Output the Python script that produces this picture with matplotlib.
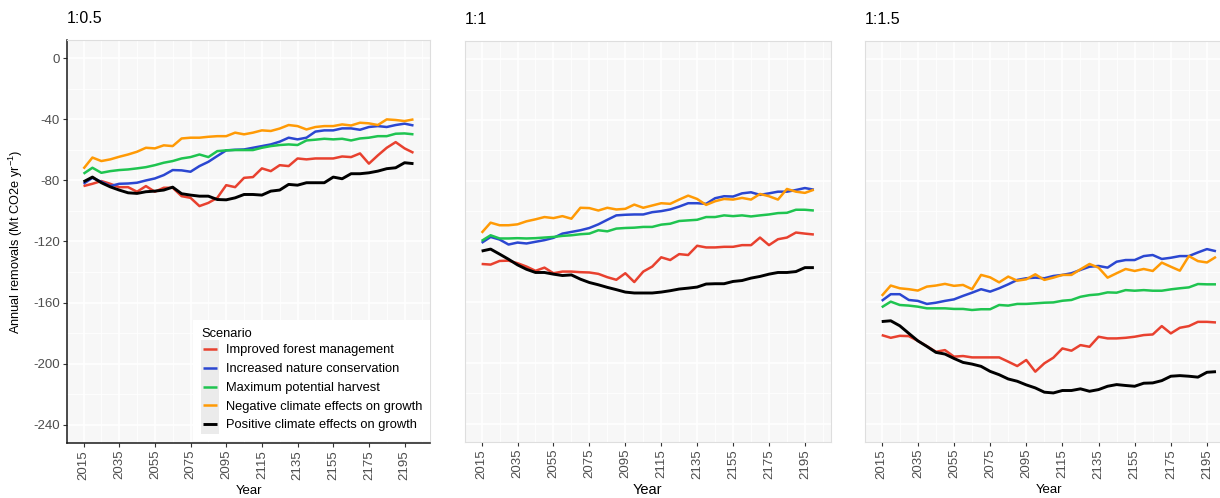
import matplotlib
matplotlib.use("Agg")
import matplotlib.pyplot as plt
from matplotlib.legend_handler import HandlerLine2D
from matplotlib.patches import Rectangle
from matplotlib.lines import Line2D

plt.rcParams["font.family"] = ["Liberation Sans", "DejaVu Sans"]
plt.rcParams["mathtext.default"] = "regular"
plt.rcParams["axes.unicode_minus"] = False

# ---------------------------------------------------------------- data
years = list(range(2015, 2205, 5))

scenarios = [
    "Improved forest management",
    "Increased nature conservation",
    "Maximum potential harvest",
    "Negative climate effects on growth",
    "Positive climate effects on growth",
]
colors = ["#E8412F", "#2B47D1", "#1FC450", "#FF9A05", "#000000"]

ratios = ["1:0.5", "1:1", "1:1.5"]

# ratio 1:0.5
ifm_half = [-83.7, -82.2, -80.4, -82.2, -84.4, -84.4, -87.4, -83.7, -87.4, -84.8,
            -84.8, -90.3, -91.4, -96.8, -94.7, -91.4, -83.1, -84.4, -78.3, -77.8,
            -72.1, -73.9, -70.0, -70.6, -65.6, -66.2, -65.6, -65.6, -65.6, -64.3,
            -64.7, -62.3, -69.0, -63.6, -58.6, -54.9, -59.0, -61.9]
inc_half = [-82.2, -78.3, -80.9, -83.7, -82.2, -82.0, -81.5, -80.0, -78.7, -76.5,
            -73.2, -73.4, -74.3, -70.6, -67.8, -64.0, -60.3, -59.9, -59.7, -58.6,
            -57.5, -56.4, -54.6, -52.0, -53.1, -52.0, -48.0, -47.2, -47.2, -45.9,
            -45.9, -46.8, -45.0, -44.4, -45.0, -43.7, -42.8, -44.0]
mph_half = [-75.6, -71.7, -75.0, -73.9, -73.2, -72.8, -72.1, -71.3, -70.0, -68.4,
            -67.3, -65.6, -64.7, -63.0, -64.7, -60.8, -60.3, -60.1, -60.1, -60.1,
            -58.6, -57.5, -56.8, -56.4, -56.8, -53.8, -53.3, -52.7, -53.1, -52.7,
            -53.8, -52.5, -52.0, -51.0, -51.0, -49.4, -49.2, -49.8]
neg_half = [-72.3, -65.0, -67.3, -66.2, -64.5, -63.0, -61.2, -58.6, -59.0, -57.0,
            -57.5, -52.5, -52.0, -52.0, -51.4, -51.0, -51.0, -48.7, -49.8, -48.7,
            -47.2, -47.6, -46.0, -43.7, -44.4, -46.6, -45.0, -44.4, -44.4, -43.3,
            -44.0, -42.2, -42.6, -43.7, -40.0, -40.4, -41.1, -40.0]
pos_half = [-80.9, -77.8, -81.5, -84.2, -86.3, -88.1, -88.5, -87.4, -87.0, -86.3,
            -84.4, -88.7, -89.6, -90.3, -90.3, -92.5, -92.7, -91.4, -89.2, -89.2,
            -89.6, -87.0, -86.3, -82.6, -83.1, -81.5, -81.5, -81.5, -77.8, -78.9,
            -75.6, -75.6, -75.0, -73.9, -72.3, -71.7, -68.4, -69.0]

# ratio 1:1
ifm_one = [-134.8, -135.2, -132.8, -132.6, -134.3, -136.5, -139.3, -137.2, -140.9, -139.8,
           -139.8, -140.2, -140.4, -141.3, -143.5, -145.2, -140.9, -146.7, -139.8, -136.5,
           -130.4, -132.2, -128.3, -128.9, -122.8, -123.9, -123.9, -123.5, -123.5, -122.4,
           -122.4, -117.4, -122.4, -118.5, -117.4, -114.1, -114.8, -115.4]
inc_one = [-120.9, -117.0, -118.7, -122.0, -120.7, -121.3, -120.2, -119.1, -117.6, -114.8,
           -113.7, -112.6, -111.1, -108.7, -105.7, -102.8, -102.4, -102.2, -102.2, -100.7,
           -100.0, -98.9, -97.0, -94.8, -94.8, -95.2, -91.5, -90.2, -90.4, -88.3,
           -87.6, -89.3, -88.3, -87.2, -87.2, -86.1, -84.8, -85.9]
mph_one = [-119.6, -115.9, -118.0, -118.0, -117.8, -118.0, -117.8, -117.4, -117.0, -116.3,
           -115.9, -115.2, -114.8, -112.6, -113.3, -111.5, -111.1, -110.9, -110.4, -110.4,
           -108.9, -108.3, -106.5, -106.1, -105.7, -103.9, -103.9, -102.8, -103.3, -102.8,
           -103.5, -102.8, -102.2, -101.3, -101.1, -99.1, -99.1, -99.6]
neg_one = [-114.3, -107.6, -109.3, -109.3, -108.7, -106.7, -105.4, -103.9, -104.6, -103.3,
           -105.0, -97.8, -98.0, -99.6, -97.8, -98.9, -98.5, -95.7, -97.8, -96.3,
           -94.8, -95.2, -92.4, -89.8, -92.0, -95.9, -93.5, -92.0, -92.4, -91.3,
           -92.4, -88.7, -90.2, -92.4, -85.4, -87.2, -88.0, -85.9]
pos_one = [-126.3, -125.0, -128.3, -131.7, -135.4, -138.3, -140.4, -140.4, -141.5, -142.4,
           -142.0, -144.8, -147.0, -148.5, -150.2, -151.7, -153.3, -153.9, -153.9, -153.9,
           -153.3, -152.4, -151.3, -150.7, -150.0, -148.0, -147.8, -147.8, -146.3, -145.7,
           -144.1, -143.0, -141.5, -140.4, -140.4, -139.8, -137.2, -137.2]

# ratio 1:1.5
ifm_onehalf = [-181.6, -183.4, -182.1, -182.3, -185.4, -188.9, -192.6, -191.5, -195.8, -195.4,
               -196.3, -196.3, -196.3, -196.3, -199.1, -202.0, -198.0, -205.7, -200.2, -196.5,
               -190.4, -191.9, -188.2, -189.3, -182.7, -183.8, -183.8, -183.4, -182.7, -181.6,
               -181.2, -175.7, -180.5, -176.8, -175.7, -172.9, -172.9, -173.3]
inc_onehalf = [-159.1, -154.7, -154.7, -158.5, -159.1, -161.1, -160.3, -159.1, -158.1, -155.8,
               -153.7, -151.4, -153.0, -150.8, -148.2, -145.3, -144.2, -143.8, -144.2, -142.7,
               -142.0, -140.9, -138.7, -136.6, -136.1, -137.2, -133.3, -132.2, -132.2, -129.6,
               -128.9, -131.5, -130.7, -129.6, -129.6, -127.2, -125.0, -126.4]
mph_onehalf = [-163.3, -159.6, -161.8, -162.2, -162.9, -164.0, -164.0, -164.0, -164.4, -164.4,
               -165.1, -164.6, -164.6, -161.8, -162.2, -161.1, -161.1, -160.7, -160.3, -160.1,
               -159.0, -158.5, -156.4, -155.3, -154.8, -153.5, -153.7, -152.0, -152.4, -152.0,
               -152.4, -152.4, -151.5, -150.8, -150.2, -148.0, -148.2, -148.2]
neg_onehalf = [-155.8, -149.0, -150.8, -151.4, -152.3, -149.7, -149.0, -147.9, -149.2, -148.6,
               -151.4, -142.0, -143.6, -146.9, -143.1, -145.8, -144.9, -141.6, -145.3, -143.8,
               -142.0, -142.0, -138.3, -134.8, -137.2, -143.8, -140.9, -138.1, -139.4, -138.1,
               -139.4, -133.9, -136.6, -139.2, -129.6, -132.9, -133.8, -130.1]
pos_onehalf = [-172.7, -172.2, -175.5, -180.5, -185.4, -189.1, -193.0, -194.1, -197.0, -199.6,
               -200.7, -202.2, -205.5, -207.7, -210.5, -212.0, -214.4, -216.4, -219.2, -219.7,
               -218.1, -218.1, -217.0, -218.6, -217.5, -215.3, -214.2, -214.8, -215.3, -213.3,
               -213.1, -211.6, -208.7, -208.3, -208.7, -209.3, -206.1, -205.7]

panel_series = [
    [ifm_half, inc_half, mph_half, neg_half, pos_half],
    [ifm_one, inc_one, mph_one, neg_one, pos_one],
    [ifm_onehalf, inc_onehalf, mph_onehalf, neg_onehalf, pos_onehalf],
]

x_ticks = list(range(2015, 2200, 20))
y_ticks = list(range(-240, 1, 40))


# ---------------------------------------------------------------- helpers
class KeyHandler(HandlerLine2D):
    """Legend key drawn as a grey tile with a short line on top."""

    def create_artists(self, legend, orig_handle, xdescent, ydescent,
                       width, height, fontsize, trans):
        tile = Rectangle((-xdescent, -ydescent), width, height,
                         facecolor="#EBEBEB", edgecolor="none")
        tile.set_transform(trans)
        y = height / 2 - ydescent
        inset = 0.1 * width
        line = Line2D([-xdescent + inset, width - xdescent - inset], [y, y],
                      color=orig_handle.get_color(),
                      lw=orig_handle.get_linewidth(), solid_capstyle="butt")
        line.set_transform(trans)
        return [tile, line]


W, H = 1220, 498
fig = plt.figure(figsize=(W / 100, H / 100), dpi=100)


def axes_px(left, top, right, bottom):
    return fig.add_axes([left / W, 1 - bottom / H, (right - left) / W, (bottom - top) / H])


boxes = [(67, 40, 430, 443), (465, 41, 830.5, 442), (865, 41, 1232.7, 442)]
axes = [axes_px(*b) for b in boxes]

for k, (ax, ratio, series) in enumerate(zip(axes, ratios, panel_series)):
    ax.set_facecolor("#F7F7F7")
    ax.set_xlim(2005.75, 2209.25)
    ax.set_ylim(-252, 12)
    ax.set_xticks(x_ticks)
    ax.set_xticks([t + 10 for t in x_ticks], minor=True)
    ax.set_yticks(y_ticks)
    ax.set_yticks([t + 20 for t in y_ticks[:-1]], minor=True)
    ax.grid(which="major", color="white", lw=1.1)
    ax.grid(which="minor", color="white", lw=0.6)
    ax.set_axisbelow(True)
    for s in ax.spines.values():
        s.set_color("#DEDEDE")
        s.set_linewidth(0.8)

    for vals, col in zip(series, colors):
        lw = 2.1 if col == "#000000" else 1.8
        ax.plot(years, vals, color=col, lw=lw, solid_joinstyle="round",
                solid_capstyle="butt")

    ax.tick_params(axis="x", which="major", rotation=90, labelsize=9.5,
                   labelcolor="#4D4D4D", color="#333333", length=3, width=0.8, pad=2)
    ax.tick_params(which="minor", length=0)
    ax.set_title(ratio, loc="left", fontsize=11.5, pad=12)
    ax.set_xlabel("Year", fontsize=10.5 if k == 1 else 9.5)
    ax.xaxis.set_label_coords(0.5, -0.101 if k == 1 else -0.104)

    if k == 0:
        for side in ("left", "bottom"):
            ax.spines[side].set_color("#1A1A1A")
            ax.spines[side].set_linewidth(1.1)
        ax.tick_params(axis="y", which="major", labelsize=9.5, labelcolor="#4D4D4D",
                       color="#333333", length=3, width=0.8, pad=2)
        ax.set_ylabel("Annual removals (Mt CO2e yr$^{-1}$)", fontsize=9.2)
        ax.yaxis.set_label_coords(-0.116, 0.5)
    else:
        ax.tick_params(axis="y", which="both", left=False, labelleft=False)

# legend inside the first panel
handles = [Line2D([], [], color=c, lw=(2.1 if c == "#000000" else 1.8)) for c in colors]
leg = axes[0].legend(handles, scenarios, title="Scenario", loc="lower right",
                     bbox_to_anchor=(1.0, 0.004), borderaxespad=0,
                     handler_map={Line2D: KeyHandler()},
                     frameon=True, facecolor="white", edgecolor="none",
                     fancybox=False, framealpha=1,
                     fontsize=9.3, title_fontsize=9.3,
                     handlelength=1.36, handleheight=1.86, labelspacing=0,
                     handletextpad=0.55, borderpad=0.6, alignment="left")
leg.set_zorder(5)

fig.savefig("out.png", dpi=100)
